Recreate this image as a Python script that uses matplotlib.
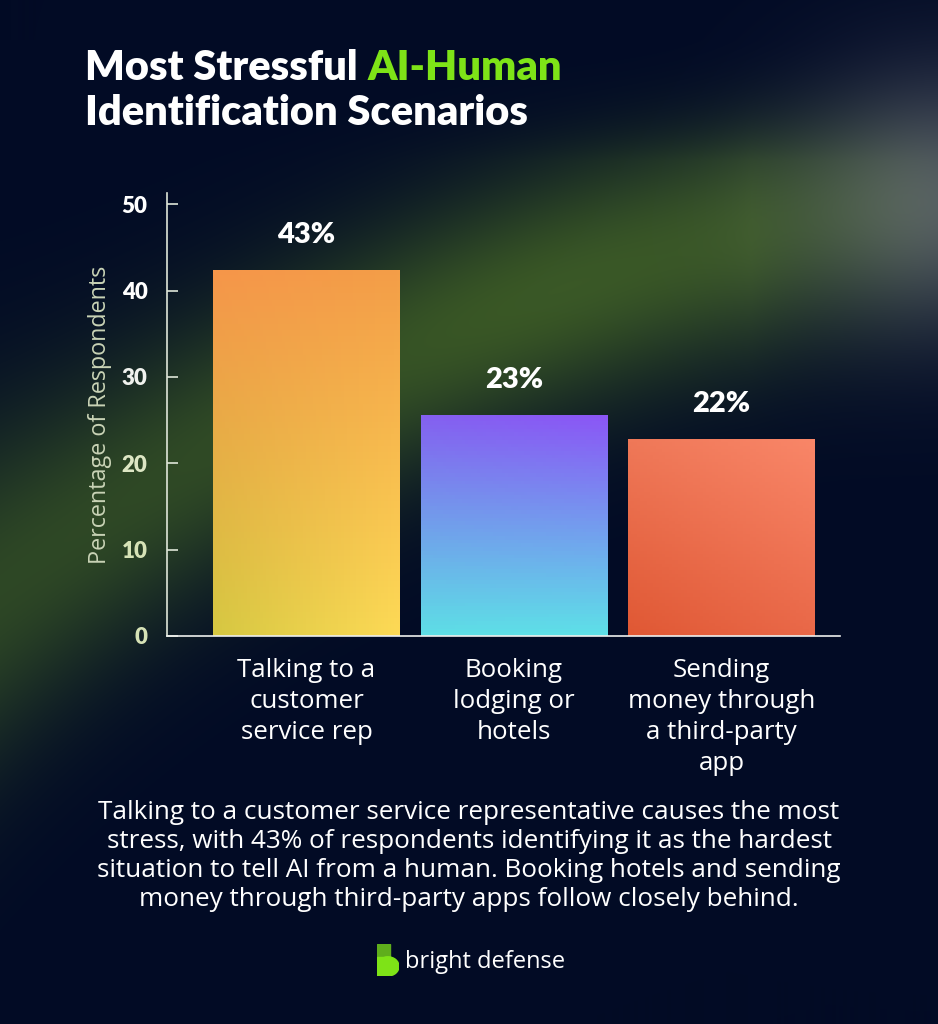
import numpy as np
import matplotlib
matplotlib.use("Agg")
import matplotlib.pyplot as plt

# data
categories = ["Talking to a\ncustomer\nservice rep",
              "Booking\nlodging or\nhotels",
              "Sending\nmoney through\na third-party\napp"]
bar_heights = [42.4, 25.6, 22.8]
value_labels = ["43%", "23%", "22%"]
y_ticks = [0, 10, 20, 30, 40, 50]

caption = ("Talking to a customer service representative causes the most\n"
           "stress, with 43% of respondents identifying it as the hardest\n"
           "situation to tell AI from a human. Booking hotels and sending\n"
           "money through third-party apps follow closely behind.")

# bar gradient corners (top-left, top-right, bottom-left, bottom-right)
bar_grads = [
    [(246, 150, 74), (243, 158, 72), (214, 200, 66), (253, 218, 86)],
    [(132, 96, 240), (139, 86, 246), (94, 222, 230), (94, 224, 232)],
    [(239, 120, 88), (249, 134, 104), (224, 88, 52), (233, 104, 72)],
]

W, H = 938, 1024
TFONT = "Lato"
BFONT = "Open Sans"
plt.rcParams["font.family"] = [BFONT, "DejaVu Sans"]

fig = plt.figure(figsize=(W / 100, H / 100), dpi=100)

# background glow
bg = fig.add_axes([0, 0, 1, 1], zorder=-5)
xx, yy = np.meshgrid(np.arange(W), np.arange(H))
base = np.array([2, 11, 37], float)
yc = 585 - 0.72 * xx + 0.00034 * xx ** 2
sig = 125 + 45 * np.exp(-xx / 220.0)
d = (yy - yc) / sig
green = np.exp(-d ** 2) * (0.78 + 0.22 * np.exp(-((xx - 560) / 260.0) ** 2))
green *= np.clip((yy - 40) / 120.0, 0, 1)
green *= np.clip((1000 - xx) / 250.0, 0, 1)
gcol = np.array([58, 88, 38], float)
grey = np.exp(-(((xx - 950) / 150.0) ** 2 + ((yy - 200) / 130.0) ** 2))
gycol = np.array([100, 104, 118], float)
img = base[None, None, :] * np.ones((H, W, 1))
img = img + green[..., None] * (gcol - base) + grey[..., None] * (gycol - base) * 0.75
img = np.clip(img, 0, 255) / 255.0
bg.imshow(img, extent=(0, 1, 0, 1), aspect="auto", origin="upper")
bg.axis("off")

# chart
ax = fig.add_axes([167 / W, 1 - 636 / H, (840 - 167) / W, (636 - 193) / H])
ax.patch.set_alpha(0)
x = np.arange(len(categories))
bars = ax.bar(x, bar_heights, width=0.9, color="none", edgecolor="none")
for b, corners in zip(bars, bar_grads):
    tl, tr, bl, br = [np.array(c, float) / 255 for c in corners]
    t = np.linspace(0, 1, 60)[:, None, None]
    s = np.linspace(0, 1, 60)[None, :, None]
    grad = (1 - t) * ((1 - s) * tl + s * tr) + t * ((1 - s) * bl + s * br)
    x0 = b.get_x()
    im = ax.imshow(grad, extent=(x0, x0 + b.get_width(), 0, b.get_height()),
                   origin="upper", aspect="auto", zorder=2)
    im.set_clip_path(b)

for b, lab in zip(bars, value_labels):
    ax.annotate(lab, (b.get_x() + b.get_width() / 2, b.get_height()),
                xytext=(0, 16), textcoords="offset points", ha="center",
                va="bottom", color="white", fontsize=21, fontweight="heavy",
                family=TFONT)

ax.set_xlim(-0.672, 2.571)
ax.set_ylim(0, 51.3)
ax.set_yticks(y_ticks)
ax.set_xticks(x)
ax.set_xticklabels(categories, fontsize=18.6, color="white", linespacing=1.32,
                   va="top")
ax.tick_params(axis="x", length=0, pad=16)
ax.tick_params(axis="y", direction="in", length=8, width=1.2,
               color="#dfe6d8", pad=14, labelsize=16)
for lbl, c in zip(ax.get_yticklabels(),
                  ["#d6e2b6", "#d6e2b6", "#dde6c4", "#f0f2ee", "#ffffff", "#ffffff"]):
    lbl.set_color(c)
    lbl.set_fontweight("heavy")
    lbl.set_family(TFONT)
ax.set_ylabel("Percentage of Respondents", fontsize=16.8, color="#c9d3b6",
              labelpad=7)
for sp in ["top", "right"]:
    ax.spines[sp].set_visible(False)
ax.spines["left"].set_color("#dfe6d8")
ax.spines["bottom"].set_color("#eef0ee")
ax.spines["left"].set_linewidth(1.2)
ax.spines["bottom"].set_linewidth(1.2)

# title
fig.canvas.draw()
r = fig.canvas.get_renderer()
t1 = fig.text(85 / W, 1 - 80 / H, "Most Stressful ", fontsize=30,
              fontweight="heavy", color="white", va="baseline", family=TFONT)
ext = t1.get_window_extent(r)
fig.text(ext.x1 / W, 1 - 80 / H, "AI-Human", fontsize=30, fontweight="heavy",
         color="#7ee317", va="baseline", family=TFONT)
fig.text(85 / W, 1 - 125 / H, "Identification Scenarios", fontsize=30,
         fontweight="heavy", color="white", va="baseline", family=TFONT)

# caption
fig.text(0.5, 1 - 856 / H, caption, ha="center", va="center", fontsize=18.8,
         color="white", linespacing=1.2)

# logo
fig.text(405 / W, 1 - 962 / H, "bright defense", fontsize=17, color="white",
         va="center", ha="left")
logo = fig.add_axes([377 / W, 1 - 976 / H, 22 / W, 32 / H])
logo.add_patch(plt.Rectangle((0, 0.45), 0.6, 0.55, color="#5fae1c"))
logo.add_patch(matplotlib.patches.Ellipse((0.5, 0.3), 1.0, 0.6, color="#7ee317"))
logo.add_patch(plt.Rectangle((0, 0), 0.5, 0.6, color="#7ee317"))
logo.set_xlim(0, 1)
logo.set_ylim(0, 1)
logo.axis("off")

fig.savefig("out.png", dpi=100)
